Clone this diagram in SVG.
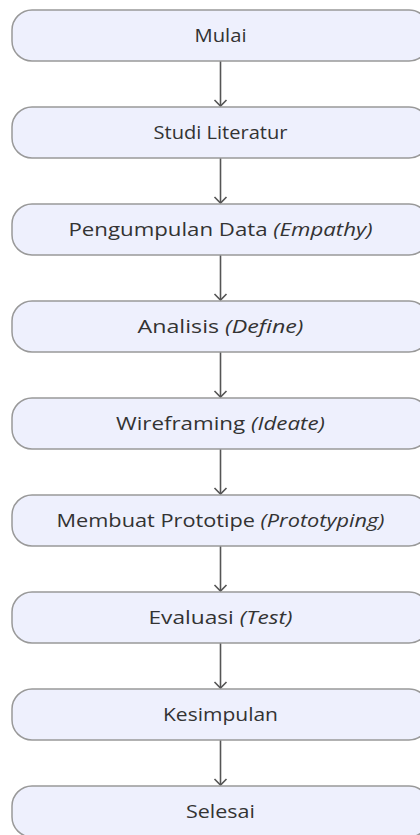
<svg xmlns="http://www.w3.org/2000/svg" width="420" height="835" viewBox="0 0 420 835">
<defs>
<style>
.node rect{fill:#eef0fd;stroke:#999999;stroke-width:1.5}
.node text{font-family:"Open Sans","Liberation Sans",sans-serif;font-size:17.5px;fill:#333333;text-anchor:middle}
.it{font-style:italic}
.edges line{stroke:#555555;stroke-width:1.6}
.edges path{fill:none;stroke:#555555;stroke-width:1.6}
</style>
</defs>
<rect width="420" height="835" fill="#ffffff"/>
<g class="edges">
<line x1="220.5" y1="61" x2="220.5" y2="106"/><path d="M214.5,100 L220.5,106 L226.5,100"/>
<line x1="220.5" y1="158" x2="220.5" y2="203"/><path d="M214.5,197 L220.5,203 L226.5,197"/>
<line x1="220.5" y1="255" x2="220.5" y2="300"/><path d="M214.5,294 L220.5,300 L226.5,294"/>
<line x1="220.5" y1="352" x2="220.5" y2="397"/><path d="M214.5,391 L220.5,397 L226.5,391"/>
<line x1="220.5" y1="449" x2="220.5" y2="494"/><path d="M214.5,488 L220.5,494 L226.5,488"/>
<line x1="220.5" y1="546" x2="220.5" y2="591"/><path d="M214.5,585 L220.5,591 L226.5,585"/>
<line x1="220.5" y1="643" x2="220.5" y2="688"/><path d="M214.5,682 L220.5,688 L226.5,682"/>
<line x1="220.5" y1="740" x2="220.5" y2="785"/><path d="M214.5,779 L220.5,785 L226.5,779"/>
</g>
<g id="mulai" class="node"><rect x="12" y="10" width="417" height="51" rx="20"/><text x="220.5" y="42" textLength="52" lengthAdjust="spacingAndGlyphs">Mulai</text></g>
<g id="studi" class="node"><rect x="12" y="107" width="417" height="51" rx="20"/><text x="220.5" y="139" textLength="134" lengthAdjust="spacingAndGlyphs">Studi Literatur</text></g>
<g id="pengumpulan" class="node"><rect x="12" y="204" width="417" height="51" rx="20"/><text x="220.5" y="236" textLength="304" lengthAdjust="spacingAndGlyphs">Pengumpulan Data <tspan class="it">(Empathy)</tspan></text></g>
<g id="analisis" class="node"><rect x="12" y="301" width="417" height="51" rx="20"/><text x="220.5" y="333" textLength="166" lengthAdjust="spacingAndGlyphs">Analisis <tspan class="it">(Define)</tspan></text></g>
<g id="wireframing" class="node"><rect x="12" y="398" width="417" height="51" rx="20"/><text x="220.5" y="430" textLength="209" lengthAdjust="spacingAndGlyphs">Wireframing <tspan class="it">(Ideate)</tspan></text></g>
<g id="prototipe" class="node"><rect x="12" y="495" width="417" height="51" rx="20"/><text x="220.5" y="527" textLength="328" lengthAdjust="spacingAndGlyphs">Membuat Prototipe <tspan class="it">(Prototyping)</tspan></text></g>
<g id="evaluasi" class="node"><rect x="12" y="592" width="417" height="51" rx="20"/><text x="220.5" y="624" textLength="144" lengthAdjust="spacingAndGlyphs">Evaluasi <tspan class="it">(Test)</tspan></text></g>
<g id="kesimpulan" class="node"><rect x="12" y="689" width="417" height="51" rx="20"/><text x="220.5" y="721" textLength="115" lengthAdjust="spacingAndGlyphs">Kesimpulan</text></g>
<g id="selesai" class="node"><rect x="12" y="786" width="417" height="51" rx="20"/><text x="220.5" y="818" textLength="69" lengthAdjust="spacingAndGlyphs">Selesai</text></g>
</svg>
